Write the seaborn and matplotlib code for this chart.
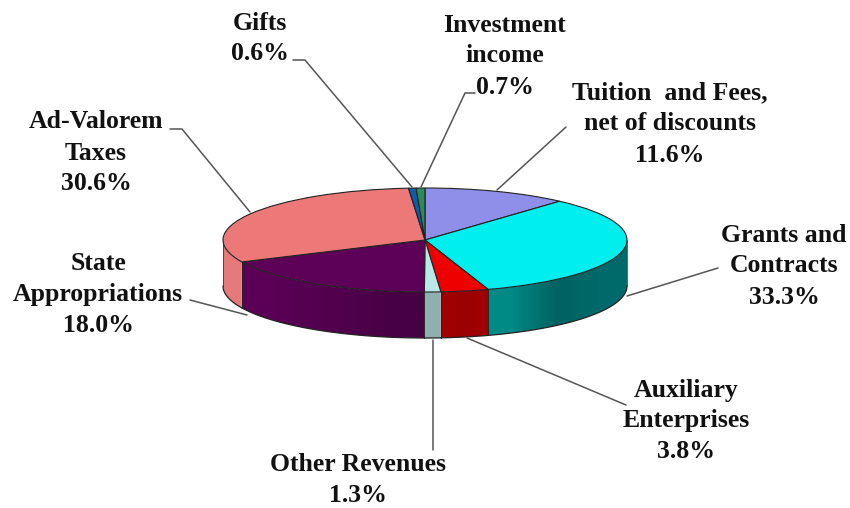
import numpy as np
import matplotlib
matplotlib.use("Agg")
import matplotlib.pyplot as plt
from matplotlib.patches import Polygon
import seaborn as sns

# revenue shares, clockwise from 12 o'clock
sources = ["Tuition  and Fees,\nnet of discounts", "Grants and\nContracts", "Auxiliary\nEnterprises",
           "Other Revenues", "State\nAppropriations", "Ad-Valorem\nTaxes", "Gifts", "Investment\nincome"]
shares = [11.6, 33.3, 3.8, 1.3, 18.0, 30.6, 0.6, 0.7]
top_colors = ["#8f8fea", "#00eeee", "#ee0000", "#b8e8e8", "#5c0058", "#ec7878", "#0a5cb0", "#2e8b57"]
# wall colours: left, middle, right of each slice
wall_colors = [("#6a6ab0",) * 3,
               ("#008a85", "#006262", "#006a6a"),
               ("#a00000", "#9c0000", "#a00000"),
               ("#8fb0b0", "#8fb0b0", "#8fb0b0"),
               ("#5a0056", "#52004e", "#470044"),
               ("#e67a7a", "#e67a7a", "#e67a7a"),
               ("#0a4080",) * 3,
               ("#206040",) * 3]

# layout in reference pixels
CX, CY, RX, RY, DEPTH = 425, 240, 202, 52, 46
label_pos = [(670, 93), (784, 235), (686, 390), (358, 465), (98, 263), (96, 122), (260, 23), (505, 25)]
leaders = [[(497, 190), (566, 127)],
           [(627, 296), (718, 268)],
           [(467, 338), (626, 405)],
           [(433, 340), (433, 450)],
           [(247, 315), (190, 300)],
           [(250, 212), (182, 129), (170, 129)],
           [(412, 187), (305, 60), (293, 60)],
           [(421, 187), (465, 93), (475, 93)]]


def to_data(px, py):
    return (px - CX) / RX, (CY - py) / RY


sns.set_theme(style="white")
plt.rcParams["font.family"] = ["Liberation Serif", "DejaVu Serif"]

fig, ax = plt.subplots(figsize=(8.5, 5.08), dpi=100)
ax.set_position([0, 0, 1, 1])
depth = DEPTH / RY

# side wall, front half of the pie only
edges = np.cumsum([0] + shares) / sum(shares) * 2 * np.pi
outline = "#222222"
for i, share in enumerate(shares):
    # angle clockwise from the top: the front runs from 90 to 270 degrees
    t0 = max(edges[i], np.pi / 2)
    t1 = min(edges[i + 1], 3 * np.pi / 2)
    if t1 <= t0:
        continue
    ts = np.linspace(t0, t1, 80)
    xs = np.sin(ts)
    ys = np.cos(ts)
    wall = Polygon(np.r_[np.c_[xs, ys], np.c_[xs, ys - depth][::-1]], closed=True, fc="none", ec="none",
                   transform=ax.transData)
    ax.add_patch(wall)
    rgb = np.array([matplotlib.colors.to_rgb(c) for c in wall_colors[i]])
    # horizontal gradient, clipped to the wall of this slice
    grad = np.array([[rgb[:, k] for k in range(3)]]).transpose(0, 2, 1)
    img = ax.imshow(grad, extent=(xs.min(), xs.max(), (ys - depth).min(), ys.max()), aspect="auto",
                    interpolation="bilinear", zorder=1)
    img.set_clip_path(wall)
    ax.plot(xs, ys - depth, color=outline, lw=0.9, zorder=2)
    for t in (t0, t1):
        ax.plot([np.sin(t)] * 2, [np.cos(t), np.cos(t) - depth], color=outline, lw=0.7, alpha=0.7, zorder=2)

ax.pie(shares, colors=sns.color_palette(top_colors), startangle=90, counterclock=False, radius=1,
       wedgeprops=dict(edgecolor="#222222", linewidth=0.8, zorder=3))
ax.set_aspect("auto")

for pts in leaders:
    dpts = [to_data(*p) for p in pts]
    ax.plot([p[0] for p in dpts], [p[1] for p in dpts], color="#555555", lw=1.1, zorder=4)

for name, share, (px, py) in zip(sources, shares, label_pos):
    lines = f"{name}\n{share:.1f}%".split("\n")
    for k, line in enumerate(lines):
        xt, yt = to_data(px, py + k * 31)
        ax.text(xt, yt, line, ha="center", va="center", fontsize=18.5, fontweight="bold",
                color="#111111", zorder=5)

ax.set_xlim(to_data(0, 0)[0], to_data(850, 0)[0])
ax.set_ylim(to_data(0, 508)[1], to_data(0, 0)[1])
ax.axis("off")

fig.savefig("out.png", dpi=100)
